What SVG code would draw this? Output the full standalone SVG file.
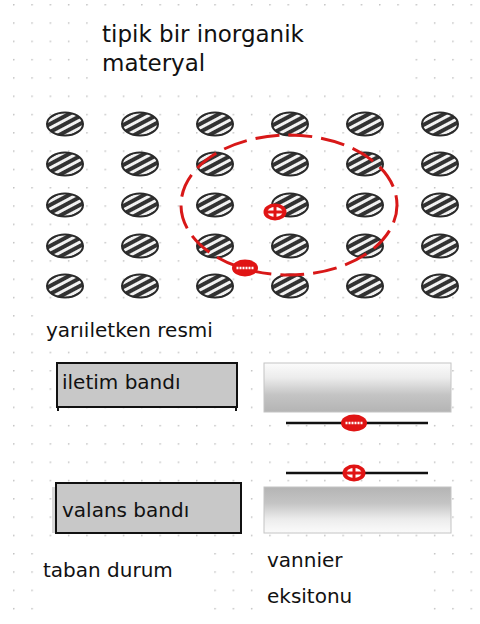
<svg xmlns="http://www.w3.org/2000/svg" width="480" height="624" viewBox="0 0 480 624">
  <defs>
    <style>
      .lbl { font-family: "DejaVu Sans", "Liberation Sans", sans-serif; font-size: 20px; fill: #111; }
      .title { font-size: 23px; }
      .band { stroke: #111; stroke-width: 2; fill: #c8c8c8; }
      .soft { stroke: #c4c4c4; stroke-width: 1; }
      .level { stroke: #111; stroke-width: 2.6; }
    </style>
    <!-- faint dotted background grid -->
    <pattern id="dots" patternUnits="userSpaceOnUse" x="13" y="4" width="18.3" height="18.3">
      <circle cx="0.8" cy="0.8" r="0.8" fill="#b4b4b4"/>
    </pattern>
    <!-- diagonal white stripes for the lattice atoms -->
    <pattern id="hatch" patternUnits="userSpaceOnUse" width="7" height="7" patternTransform="rotate(-28)">
      <rect width="7" height="7" fill="#333"/>
      <rect y="2" width="7" height="3" fill="#f2f2f2"/>
    </pattern>
    <filter id="soft" x="-20%" y="-20%" width="140%" height="140%">
      <feGaussianBlur stdDeviation="0.6"/>
    </filter>
    <linearGradient id="cbGrad" x1="0" y1="0" x2="0" y2="1">
      <stop offset="0" stop-color="#fbfbfb"/>
      <stop offset="0.3" stop-color="#ececec"/>
      <stop offset="0.65" stop-color="#c4c4c4"/>
      <stop offset="1" stop-color="#b4b4b4"/>
    </linearGradient>
    <linearGradient id="vbGrad" x1="0" y1="0" x2="0" y2="1">
      <stop offset="0" stop-color="#b4b4b4"/>
      <stop offset="0.35" stop-color="#c4c4c4"/>
      <stop offset="0.7" stop-color="#ececec"/>
      <stop offset="1" stop-color="#fbfbfb"/>
    </linearGradient>
    <g id="atom" filter="url(#soft)">
      <ellipse rx="18" ry="11.5" fill="url(#hatch)" stroke="#2a2a2a" stroke-width="2"/>
    </g>
    <g id="hole">
      <ellipse rx="11.5" ry="8.5" fill="#e01414"/>
      <ellipse rx="7.5" ry="5" fill="#fff"/>
      <line x1="-9" y1="0" x2="9" y2="0" stroke="#e01414" stroke-width="3"/>
      <line x1="0" y1="-7" x2="0" y2="7" stroke="#e01414" stroke-width="3"/>
    </g>
    <g id="electron">
      <ellipse rx="13" ry="8.5" fill="#e01414"/>
      <line x1="-8.5" y1="0" x2="8.5" y2="0" stroke="#fff" stroke-width="2.4" stroke-dasharray="2 1"/>
    </g>
  </defs>

  <!-- page -->
  <rect width="480" height="624" fill="#fff"/>
  <rect width="480" height="624" fill="url(#dots)"/>

  <!-- title -->
  <g id="title">
    <rect x="88" y="8" width="322" height="72" fill="#fff"/>
    <text class="lbl title" x="102" y="42">tipik bir inorganik</text>
    <text class="lbl title" x="102" y="71">materyal</text>
  </g>

  <!-- semiconductor lattice: 6 columns x 5 rows -->
  <g id="lattice">
    <use href="#atom" x="65" y="124"/><use href="#atom" x="140" y="124"/><use href="#atom" x="215" y="124"/><use href="#atom" x="290" y="124"/><use href="#atom" x="365" y="124"/><use href="#atom" x="440" y="124"/>
    <use href="#atom" x="65" y="164"/><use href="#atom" x="140" y="164"/><use href="#atom" x="215" y="164"/><use href="#atom" x="290" y="164"/><use href="#atom" x="365" y="164"/><use href="#atom" x="440" y="164"/>
    <use href="#atom" x="65" y="205"/><use href="#atom" x="140" y="205"/><use href="#atom" x="215" y="205"/><use href="#atom" x="290" y="205"/><use href="#atom" x="365" y="205"/><use href="#atom" x="440" y="205"/>
    <use href="#atom" x="65" y="246"/><use href="#atom" x="140" y="246"/><use href="#atom" x="215" y="246"/><use href="#atom" x="290" y="246"/><use href="#atom" x="365" y="246"/><use href="#atom" x="440" y="246"/>
    <use href="#atom" x="65" y="286"/><use href="#atom" x="140" y="286"/><use href="#atom" x="215" y="286"/><use href="#atom" x="290" y="286"/><use href="#atom" x="365" y="286"/><use href="#atom" x="440" y="286"/>
  </g>

  <!-- exciton orbit with bound electron-hole pair -->
  <g id="exciton-orbit">
    <ellipse cx="289" cy="205" rx="108" ry="70" fill="none" stroke="#d81818" stroke-width="3" stroke-dasharray="24 9" stroke-dashoffset="6"/>
    <use href="#hole" x="275" y="212"/>
    <use href="#electron" x="245" y="268"/>
  </g>

  <g id="caption-lattice">
    <rect x="40" y="313" width="190" height="32" fill="#fff"/>
    <text class="lbl" x="46" y="337">yarıiletken resmi</text>
  </g>

  <!-- ground state bands -->
  <g id="conduction-band">
    <rect class="band" x="57" y="363" width="180" height="44"/>
    <line x1="58" y1="407" x2="58" y2="411" stroke="#111" stroke-width="2"/>
    <line x1="236" y1="407" x2="236" y2="411" stroke="#111" stroke-width="2"/>
    <text class="lbl" x="62" y="389">iletim bandı</text>
  </g>
  <g id="valence-band">
    <rect x="52" y="487" width="4" height="46" fill="#d8d8d8"/>
    <rect class="band" x="56" y="483" width="185" height="50"/>
    <text class="lbl" x="62" y="517">valans bandı</text>
  </g>

  <!-- exciton bands and levels -->
  <g id="exciton-conduction-band">
    <rect class="soft" x="264" y="363" width="187" height="49" fill="url(#cbGrad)"/>
  </g>
  <g id="exciton-valence-band">
    <rect class="soft" x="264" y="487" width="187" height="46" fill="url(#vbGrad)"/>
  </g>
  <g id="connectors">
    <line class="level" x1="286" y1="423" x2="428" y2="423"/>
    <line class="level" x1="286" y1="473" x2="428" y2="473"/>
  </g>
  <g id="electron-level"><use href="#electron" x="354" y="423"/></g>
  <g id="hole-level"><use href="#hole" x="354" y="473"/></g>

  <!-- captions -->
  <g id="caption-ground">
    <rect x="36" y="550" width="164" height="70" fill="#fff"/>
    <text class="lbl" x="43" y="577">taban durum</text>
  </g>
  <g id="caption-exciton">
    <rect x="262" y="548" width="160" height="72" fill="#fff"/>
    <text class="lbl" x="267" y="567">vannier</text>
    <text class="lbl" x="267" y="603">eksitonu</text>
  </g>
</svg>
